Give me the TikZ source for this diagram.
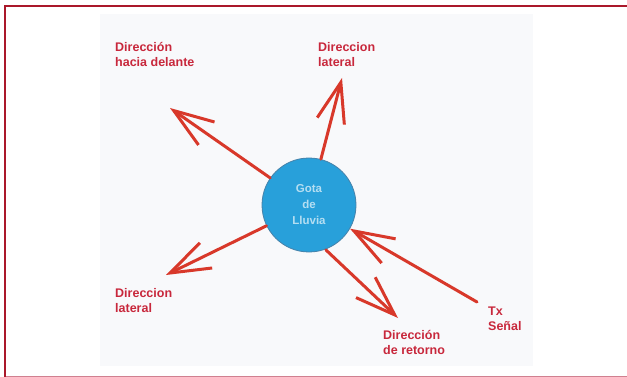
\documentclass[tikz,border=0pt]{standalone}
\usepackage{fontspec}
\setmainfont{Liberation Sans}
\usetikzlibrary{arrows.meta}
\definecolor{framered}{RGB}{170,24,42}
\definecolor{framepink}{RGB}{208,128,144}
\definecolor{arrowred}{RGB}{216,56,42}
\definecolor{labelred}{RGB}{200,40,60}
\definecolor{dropblue}{RGB}{40,160,218}
\definecolor{dropedge}{RGB}{70,130,170}
\definecolor{droptext}{RGB}{180,222,242}
\definecolor{panel}{RGB}{248,249,251}
\tikzset{
  % multi-line labels: the base anchor sits on the last line
  label text/.style={anchor=base west, align=left, inner sep=0pt, text=labelred,
    font=\fontsize{12.5}{15}\selectfont\bfseries},
  ray/.style={draw=arrowred, line width=3pt, line cap=round,
    -{Straight Barb[length=40pt,width=28pt]}},
  drop/.style={circle, minimum size=94pt, inner sep=0pt, fill=dropblue,
    draw=dropedge, line width=0.8pt, text=droptext, align=center,
    font=\fontsize{11.5}{16}\selectfont\bfseries}
}
\begin{document}
\begin{tikzpicture}[x=1pt, y=-1pt]
  \useasboundingbox (0,0) rectangle (627,377);
  % page frame
  \fill[panel] (100,14) rectangle (533,366);
  \draw[framepink, line width=1pt] (5,376) -- (627,376);
  \draw[framered, line width=2pt] (627,6) -- (5,6) -- (5,377);

  % the rain drop
  \node[drop] (gota) at (309,205) {Gota\\de\\Lluvia};

  % arrow ends
  \coordinate (fwdTip) at (170,108);
  \coordinate (upTip) at (342,78);
  \coordinate (leftTip) at (166,275);
  \coordinate (retTail) at (326,250);
  \coordinate (retTip) at (398,318);
  \coordinate (txTail) at (477,302);

  \draw[ray] (gota) -- (fwdTip);
  \draw[ray] (gota) -- (upTip);
  \draw[ray] (gota) -- (leftTip);
  \draw[ray] (retTail) -- (retTip);
  \draw[ray] (txTail) -- (gota);

  % labels
  \node[label text] (lblFwd) at (115,67) {Dirección\\hacia delante};
  \node[label text] (lblUp) at (318,67) {Direccion\\lateral};
  \node[label text] (lblLeft) at (115,312) {Direccion\\lateral};
  \node[label text] (lblRet) at (383,354) {Dirección\\de retorno};
  \node[label text] (lblTx) at (488,330) {Tx\\Señal};
\end{tikzpicture}
\end{document}
